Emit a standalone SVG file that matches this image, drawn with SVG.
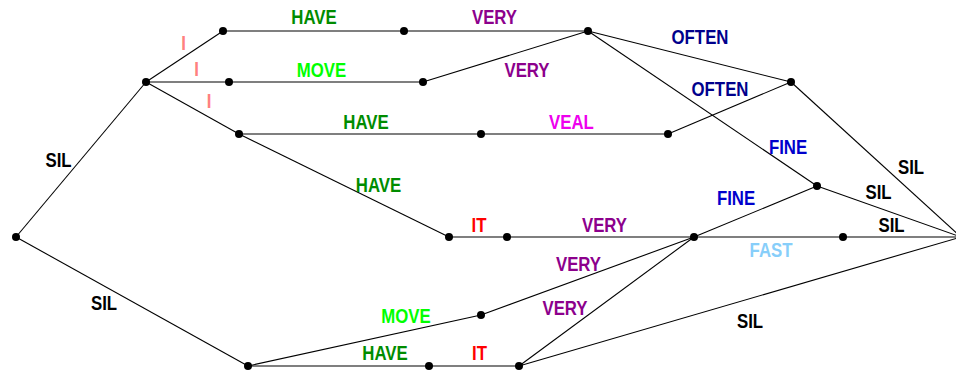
<svg xmlns="http://www.w3.org/2000/svg" width="956" height="372" viewBox="0 0 956 372">
  <style>
    .e line { stroke: #000; stroke-width: 1.1; fill: none; }
    .n circle { fill: #000; }
    text { font-family: "Liberation Sans", Arial, sans-serif; font-weight: bold; font-size: 21px; text-anchor: middle; }
    .sil { fill: #000; }
    .i { fill: #ff8080; }
    .have { fill: #008c00; }
    .move { fill: #00ff00; }
    .very { fill: #8c008c; }
    .veal { fill: #ee00ee; }
    .often { fill: #00008c; }
    .fine { fill: #0000cc; }
    .fast { fill: #87cefa; }
    .it { fill: #ff0000; }
  </style>

  <!-- word lattice arcs, each with its word label -->
  <g id="connectors" class="e">
    <g><line x1="16" y1="237" x2="146" y2="82"/><text class="sil" transform="translate(58.5,167) scale(0.8,1)">SIL</text></g>
    <g><line x1="16" y1="237" x2="248" y2="366"/><text class="sil" transform="translate(104,310) scale(0.8,1)">SIL</text></g>
    <g><line x1="146" y1="82" x2="223" y2="31"/><text class="i" transform="translate(183.5,50) scale(0.8,1)">I</text></g>
    <g><line x1="146" y1="82" x2="229" y2="82"/><text class="i" transform="translate(196.5,76) scale(0.8,1)">I</text></g>
    <g><line x1="146" y1="82" x2="239" y2="134"/><text class="i" transform="translate(209,108) scale(0.8,1)">I</text></g>
    <g><line x1="223" y1="31" x2="404" y2="31"/><text class="have" transform="translate(314,24) scale(0.8,1)">HAVE</text></g>
    <g><line x1="404" y1="31" x2="588" y2="31"/><text class="very" transform="translate(494.5,24) scale(0.8,1)">VERY</text></g>
    <g><line x1="229" y1="82" x2="423" y2="82"/><text class="move" transform="translate(321.5,77) scale(0.8,1)">MOVE</text></g>
    <g><line x1="423" y1="82" x2="588" y2="31"/><text class="very" transform="translate(527,77) scale(0.8,1)">VERY</text></g>
    <g><line x1="239" y1="134" x2="481" y2="134"/><text class="have" transform="translate(366,129) scale(0.8,1)">HAVE</text></g>
    <g><line x1="481" y1="134" x2="668" y2="134"/><text class="veal" transform="translate(571.5,129) scale(0.8,1)">VEAL</text></g>
    <g><line x1="239" y1="134" x2="449" y2="237"/><text class="have" transform="translate(378.5,192) scale(0.8,1)">HAVE</text></g>
    <g><line x1="588" y1="31" x2="791" y2="82"/><text class="often" transform="translate(700,44) scale(0.8,1)">OFTEN</text></g>
    <g><line x1="668" y1="134" x2="791" y2="82"/><text class="often" transform="translate(720,96) scale(0.8,1)">OFTEN</text></g>
    <g><line x1="588" y1="31" x2="817" y2="186"/><text class="fine" transform="translate(788,154) scale(0.8,1)">FINE</text></g>
    <g><line x1="791" y1="82" x2="961" y2="237"/><text class="sil" transform="translate(911,174) scale(0.8,1)">SIL</text></g>
    <g><line x1="817" y1="186" x2="961" y2="237"/><text class="sil" transform="translate(878.5,199) scale(0.8,1)">SIL</text></g>
    <g><line x1="449" y1="237" x2="507" y2="237"/><text class="it" transform="translate(479,232) scale(0.8,1)">IT</text></g>
    <g><line x1="507" y1="237" x2="694" y2="237"/><text class="very" transform="translate(604.5,232) scale(0.8,1)">VERY</text></g>
    <g><line x1="694" y1="237" x2="817" y2="186"/><text class="fine" transform="translate(736,205) scale(0.8,1)">FINE</text></g>
    <g><line x1="694" y1="237" x2="843" y2="237"/><text class="fast" transform="translate(771,257) scale(0.8,1)">FAST</text></g>
    <g><line x1="843" y1="237" x2="961" y2="237"/><text class="sil" transform="translate(891.5,232) scale(0.8,1)">SIL</text></g>
    <g><line x1="248" y1="366" x2="481" y2="315"/><text class="move" transform="translate(406,323) scale(0.8,1)">MOVE</text></g>
    <g><line x1="481" y1="315" x2="694" y2="237"/><text class="very" transform="translate(578.5,271) scale(0.8,1)">VERY</text></g>
    <g><line x1="248" y1="366" x2="429" y2="366"/><text class="have" transform="translate(385,360) scale(0.8,1)">HAVE</text></g>
    <g><line x1="429" y1="366" x2="519" y2="366"/><text class="it" transform="translate(479.5,360) scale(0.8,1)">IT</text></g>
    <g><line x1="519" y1="366" x2="694" y2="237"/><text class="very" transform="translate(565,315) scale(0.8,1)">VERY</text></g>
    <g><line x1="519" y1="366" x2="961" y2="237"/><text class="sil" transform="translate(750,328) scale(0.8,1)">SIL</text></g>
  </g>

  <!-- lattice states -->
  <g id="n0" class="n"><circle cx="16" cy="237" r="4"/></g>
  <g id="n1" class="n"><circle cx="146" cy="82" r="4"/></g>
  <g id="n2" class="n"><circle cx="223" cy="31" r="4"/></g>
  <g id="n3" class="n"><circle cx="229" cy="82" r="4"/></g>
  <g id="n4" class="n"><circle cx="239" cy="134" r="4"/></g>
  <g id="n5" class="n"><circle cx="404" cy="31" r="4"/></g>
  <g id="n6" class="n"><circle cx="423" cy="82" r="4"/></g>
  <g id="n7" class="n"><circle cx="481" cy="134" r="4"/></g>
  <g id="n8" class="n"><circle cx="588" cy="31" r="4"/></g>
  <g id="n9" class="n"><circle cx="668" cy="134" r="4"/></g>
  <g id="n10" class="n"><circle cx="791" cy="82" r="4"/></g>
  <g id="n11" class="n"><circle cx="817" cy="186" r="4"/></g>
  <g id="n12" class="n"><circle cx="449" cy="237" r="4"/></g>
  <g id="n13" class="n"><circle cx="507" cy="237" r="4"/></g>
  <g id="n14" class="n"><circle cx="694" cy="237" r="4"/></g>
  <g id="n15" class="n"><circle cx="843" cy="237" r="4"/></g>
  <g id="n16" class="n"><circle cx="961" cy="237" r="4"/></g>
  <g id="n17" class="n"><circle cx="248" cy="366" r="4"/></g>
  <g id="n18" class="n"><circle cx="429" cy="366" r="4"/></g>
  <g id="n19" class="n"><circle cx="481" cy="315" r="4"/></g>
  <g id="n20" class="n"><circle cx="519" cy="366" r="4"/></g>
</svg>
